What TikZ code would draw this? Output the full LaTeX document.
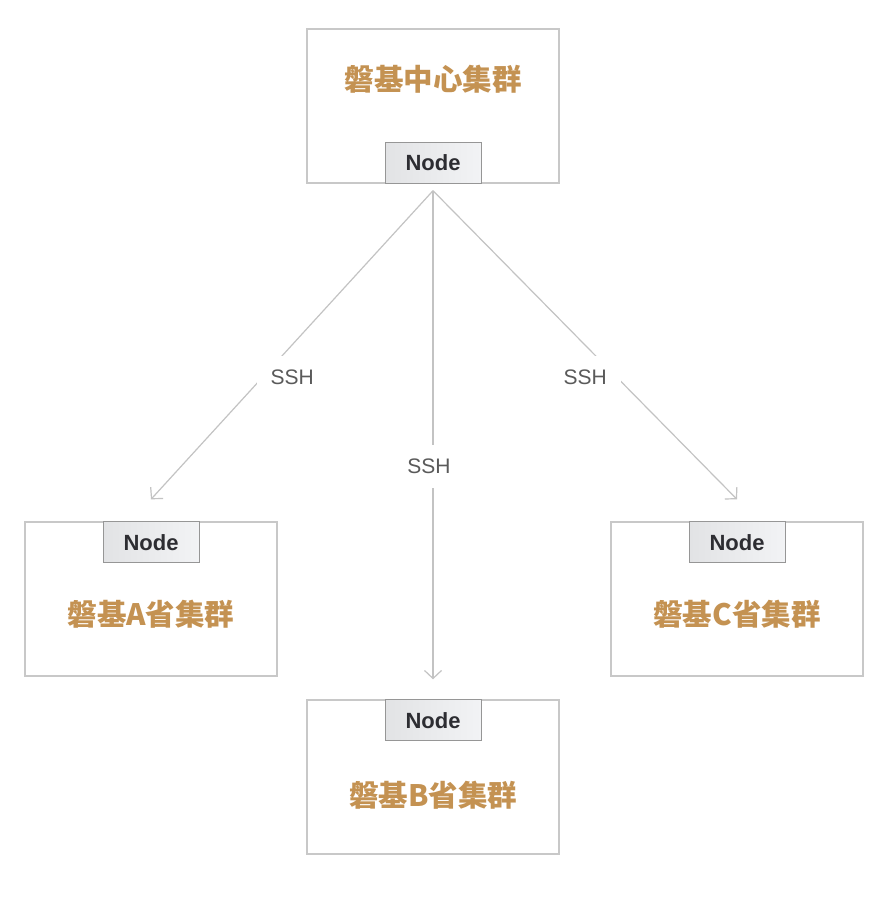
\documentclass[tikz,border=0pt]{standalone}
\usepackage{fontspec}
\setmainfont{Liberation Sans}
\newfontfamily\cjk{Noto Sans CJK SC}
\usetikzlibrary{arrows.meta, positioning}
\definecolor{lineGray}{RGB}{195,195,195}
\definecolor{boxGray}{RGB}{200,200,200}
\definecolor{tabDraw}{RGB}{150,150,150}
\definecolor{tabLeft}{RGB}{226,227,229}
\definecolor{tabRight}{RGB}{242,243,245}
\definecolor{titleGold}{RGB}{196,146,82}
\definecolor{nodeText}{RGB}{45,45,50}
\definecolor{sshText}{RGB}{90,90,90}
\tikzset{
  cluster/.style={rectangle, draw=boxGray, line width=1.4pt, fill=white,
    minimum width=252pt, minimum height=154pt, inner sep=0pt},
  tab/.style={rectangle, draw=tabDraw, line width=0.8pt,
    left color=tabLeft, right color=tabRight,
    minimum width=96pt, minimum height=41pt, inner sep=0pt,
    font=\fontsize{22}{24}\selectfont\bfseries, text=nodeText},
  ctitle/.style={font=\cjk\fontsize{29.5}{31}\selectfont\bfseries, text=titleGold, inner sep=0pt},
  link/.style={-{Straight Barb[length=8pt,width=17pt]}, line width=1.2pt, color=lineGray},
  ssh/.style={font=\fontsize{21}{23}\selectfont, text=sshText, fill=white, inner sep=14pt},
}
\begin{document}
\begin{tikzpicture}[x=1pt, y=-1pt]
\useasboundingbox[fill=white] (0,0) rectangle (884,902);

% central cluster
\node[cluster] (center) at (433,106) {};
\node[ctitle] (centerT) at (433,79) {磐基中心集群};
\node[tab, anchor=south] (centerN) at (center.south) {Node};
\coordinate[below=7pt of centerN.south] (hub);

% provincial clusters
\node[cluster] (clA) at (151,599) {};
\node[tab, anchor=north] (nodeA) at (clA.north) {Node};
\node[ctitle] (titleA) at ([yshift=-51pt]nodeA.south) {磐基A省集群};
\coordinate[above=22pt of nodeA.north] (inA);

\node[cluster] (clB) at (433,777) {};
\node[tab, anchor=north] (nodeB) at (clB.north) {Node};
\node[ctitle] (titleB) at ([yshift=-54pt]nodeB.south) {磐基B省集群};
\coordinate[above=20pt of nodeB.north] (inB);

\node[cluster] (clC) at (737,599) {};
\node[tab, anchor=north] (nodeC) at (clC.north) {Node};
\node[ctitle] (titleC) at ([yshift=-51pt]nodeC.south) {磐基C省集群};
\coordinate[above=22pt of nodeC.north] (inC);

% ssh links
\draw[link] (hub) -- node[ssh, pos=0.606, xshift=30pt] {SSH} (inA);
\draw[link] (hub) -- node[ssh, pos=0.565, xshift=-4pt, inner xsep=4pt] {SSH} (inB);
\draw[link] (hub) -- node[ssh, pos=0.606, xshift=-32pt] {SSH} (inC);

\end{tikzpicture}
\end{document}
